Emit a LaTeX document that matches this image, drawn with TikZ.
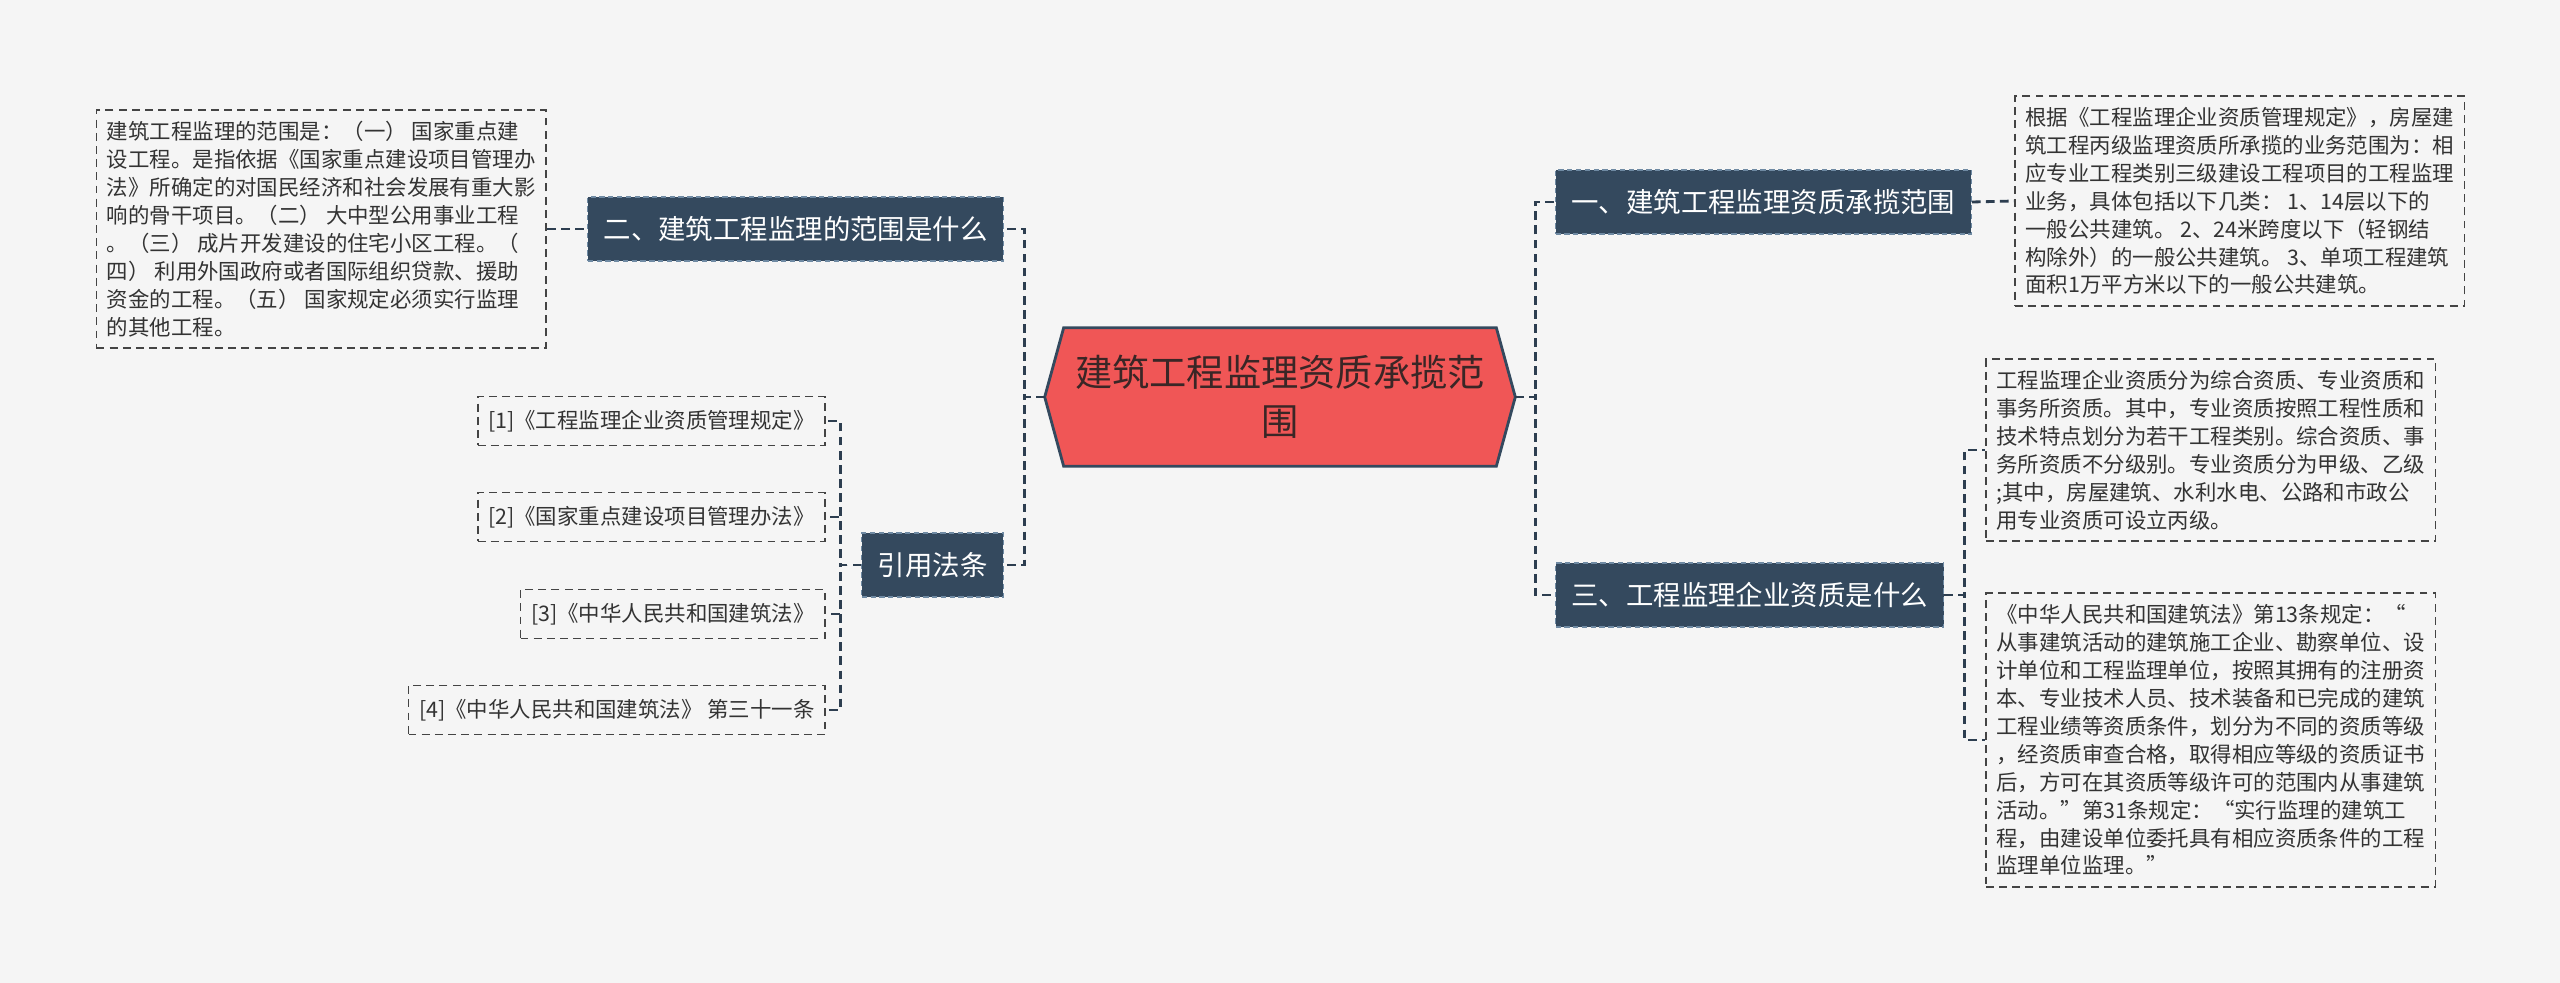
\documentclass[tikz,border=0pt]{standalone}
\usepackage{fontspec}
\setmainfont{Noto Sans CJK SC}
\usetikzlibrary{backgrounds}
\definecolor{bgc}{HTML}{F5F5F5}
\definecolor{navy}{HTML}{34495E}
\definecolor{navyedge}{HTML}{6F8AA3}
\definecolor{hubred}{HTML}{F05656}
\definecolor{hubtxt}{HTML}{3A2626}
\definecolor{linec}{HTML}{2D3E50}
\definecolor{leafline}{HTML}{444444}
\definecolor{txt}{HTML}{333333}
\begin{document}
\begin{tikzpicture}[
  x=0.02cm, y=-0.02cm,
  hub/.style={minimum width=9.4cm, minimum height=2.76cm, inner sep=0pt, align=center, text=hubtxt, font=\fontsize{21.2}{27.9}\selectfont},
  topic/.style={fill=navy, draw=navyedge, dash pattern=on 3pt off 2pt, line width=0.6pt, text=white, inner xsep=0.32cm, inner ysep=0pt, minimum height=1.28cm, font=\fontsize{15.6}{18}\selectfont},
  leaf/.style={draw=leafline, dash pattern=on 4.5pt off 3pt, line width=1pt, fill=bgc, text=txt, align=left, inner xsep=0.21cm, inner ysep=0.22cm, font=\fontsize{12.2}{15.9}\selectfont},
  cite/.style={leaf, minimum height=0.98cm, inner ysep=0pt},
  link/.style={draw=linec, line width=1.6pt, dash pattern=on 5pt off 3pt}
]
  \useasboundingbox (0,0) rectangle (2560,983);
  \begin{pgfonlayer}{background}
    \fill[bgc] (0,0) rectangle (2560,983);
  \end{pgfonlayer}

  % tema central
  \node[hub] (hub) at (1280,397) {建筑工程监理资质承揽范\\围};
  \begin{pgfonlayer}{background}
    \draw[fill=hubred, draw=navy, line width=1.6pt] (hub.west) -- ([xshift=0.38cm]hub.north west) -- ([xshift=-0.38cm]hub.north east) -- (hub.east) -- ([xshift=-0.38cm]hub.south east) -- ([xshift=0.38cm]hub.south west) -- cycle;
  \end{pgfonlayer}

  % ramas
  \node[topic, anchor=west] (b1) at (1555,202) {一、建筑工程监理资质承揽范围};
  \node[topic, anchor=west] (b3) at (1555,595) {三、工程监理企业资质是什么};
  \node[topic, anchor=east] (b2) at (1004,229) {二、建筑工程监理的范围是什么};
  \node[topic, anchor=east] (refs) at (1004,565) {引用法条};

  % hojas
  \node[leaf, anchor=east] (l0) at (547,229) {建筑工程监理的范围是：（一） 国家重点建\\设工程。是指依据《国家重点建设项目管理办\\法》所确定的对国民经济和社会发展有重大影\\响的骨干项目。（二） 大中型公用事业工程\\。（三） 成片开发建设的住宅小区工程。（\\四） 利用外国政府或者国际组织贷款、援助\\资金的工程。（五） 国家规定必须实行监理\\的其他工程。};
  \node[leaf, anchor=west] (l1) at (2014,201) {根据《工程监理企业资质管理规定》，房屋建\\筑工程丙级监理资质所承揽的业务范围为：相\\应专业工程类别三级建设工程项目的工程监理\\业务，具体包括以下几类： 1、14层以下的\\一般公共建筑。 2、24米跨度以下（轻钢结\\构除外）的一般公共建筑。 3、单项工程建筑\\面积1万平方米以下的一般公共建筑。};
  \node[leaf, anchor=west] (l2) at (1985,450) {工程监理企业资质分为综合资质、专业资质和\\事务所资质。其中，专业资质按照工程性质和\\技术特点划分为若干工程类别。综合资质、事\\务所资质不分级别。专业资质分为甲级、乙级\\;其中，房屋建筑、水利水电、公路和市政公\\用专业资质可设立丙级。};
  \node[leaf, anchor=west] (l3) at (1985,740) {《中华人民共和国建筑法》第13条规定：“\\从事建筑活动的建筑施工企业、勘察单位、设\\计单位和工程监理单位，按照其拥有的注册资\\本、专业技术人员、技术装备和已完成的建筑\\工程业绩等资质条件，划分为不同的资质等级\\，经资质审查合格，取得相应等级的资质证书\\后，方可在其资质等级许可的范围内从事建筑\\活动。”第31条规定：“实行监理的建筑工\\程，由建设单位委托具有相应资质条件的工程\\监理单位监理。”};

  % citas
  \node[cite, anchor=east] (r1) at (826,421) {[1]《工程监理企业资质管理规定》};
  \node[cite, anchor=east] (r2) at (826,517) {[2]《国家重点建设项目管理办法》};
  \node[cite, anchor=east] (r3) at (826,614) {[3]《中华人民共和国建筑法》};
  \node[cite, anchor=east] (r4) at (826,710) {[4]《中华人民共和国建筑法》 第三十一条};

  % conexiones
  \draw[link] (hub.west) -- ++(-20,0) |- (b2.east);
  \draw[link] (hub.west) -- ++(-20,0) |- (refs.east);
  \draw[link] (hub.east) -- ++(20,0) |- (b1.west);
  \draw[link] (hub.east) -- ++(20,0) |- (b3.west);
  \draw[link] (l0.east) -- (b2.west);
  \draw[link] (b1.east) -- (l1.west);
  \draw[link] (b3.east) -- ++(20,0) |- (l2.west);
  \draw[link] (b3.east) -- ++(20,0) |- (l3.west);
  \foreach \i in {1,...,4}
    \draw[link] (refs.west) -- ++(-21,0) |- (r\i.east);
\end{tikzpicture}
\end{document}
